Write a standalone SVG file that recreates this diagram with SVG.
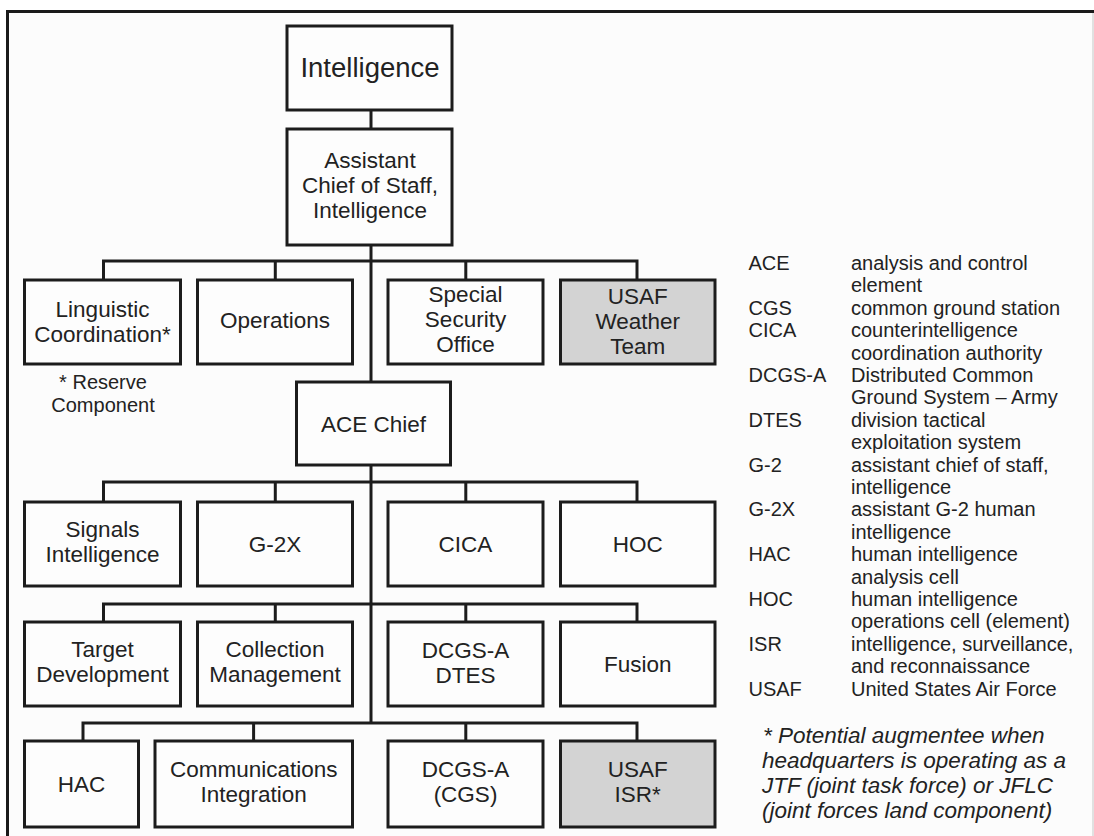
<svg xmlns="http://www.w3.org/2000/svg" width="1094" height="836" viewBox="0 0 1094 836">
<style>
.box{fill:#fdfdfd;stroke:#1c1c1c;stroke-width:3}
.gray{fill:#d3d3d3;stroke:#1c1c1c;stroke-width:3}
.t{font-family:"Liberation Sans",Arial,sans-serif;font-size:22.5px;fill:#222;text-anchor:middle}
.big{font-size:27.5px}
.lg{font-family:"Liberation Sans",Arial,sans-serif;font-size:20px;fill:#222}
.note{font-family:"Liberation Sans",Arial,sans-serif;font-size:22.5px;font-style:italic;fill:#222}
.c{fill:none;stroke:#1c1c1c;stroke-width:3}
</style>
<rect x="0" y="0" width="1094" height="836" fill="#ffffff"/>
<rect x="8" y="12" width="1086" height="824" fill="#fcfcfc"/>
<g id="frame">
<line x1="6" y1="11.5" x2="1094" y2="11.5" stroke="#1a1a1a" stroke-width="3"/>
<line x1="7.5" y1="10" x2="7.5" y2="836" stroke="#1a1a1a" stroke-width="3"/>
<line x1="1093" y1="13" x2="1093" y2="836" stroke="#d8d8d8" stroke-width="1.5"/>
</g>
<g id="connectors">
<path class="c" d="M371 110V129M371 245V382M371 465V723"/>
<path class="c" d="M103.5 280V261H637V280M275.3 261V280M465.8 261V280"/>
<path class="c" d="M103.5 502V482H637V502M275.3 482V502M465.8 482V502"/>
<path class="c" d="M103.5 622V604H637V622M275.3 604V622M465.8 604V622"/>
<path class="c" d="M83 741V723H637V741M253.6 723V741M465.8 723V741"/>
</g>
<g id="n-intelligence"><rect class="box" x="287" y="26" width="165" height="84"/><text class="t big" x="370" y="77">Intelligence</text></g>
<g id="n-acos"><rect class="box" x="287" y="129" width="165" height="116"/><text class="t" x="370" y="167.5">Assistant</text><text class="t" x="370" y="192.5">Chief of Staff,</text><text class="t" x="370" y="217.5">Intelligence</text></g>
<g id="n-linguistic"><rect class="box" x="24.5" y="280" width="156" height="84"/><text class="t" x="102.5" y="317">Linguistic</text><text class="t" x="102.5" y="342">Coordination*</text></g>
<g id="n-reserve-note"><text class="t" style="font-size:20px" x="103" y="388.5">* Reserve</text><text class="t" style="font-size:20px" x="103" y="412">Component</text></g>
<g id="n-operations"><rect class="box" x="197.5" y="280" width="155" height="84"/><text class="t" x="275" y="328">Operations</text></g>
<g id="n-sso"><rect class="box" x="388" y="280" width="155" height="84"/><text class="t" x="465.5" y="302">Special</text><text class="t" x="465.5" y="327">Security</text><text class="t" x="465.5" y="352">Office</text></g>
<g id="n-weather"><rect class="gray" x="560.5" y="280" width="154.5" height="84"/><text class="t" x="637.7" y="304">USAF</text><text class="t" x="637.7" y="329">Weather</text><text class="t" x="637.7" y="354">Team</text></g>
<g id="n-acechief"><rect class="box" x="296.5" y="382" width="154" height="83"/><text class="t" x="373.5" y="432">ACE Chief</text></g>
<g id="n-sigint"><rect class="box" x="24.5" y="502" width="156" height="84"/><text class="t" x="102.5" y="537">Signals</text><text class="t" x="102.5" y="562">Intelligence</text></g>
<g id="n-g2x"><rect class="box" x="197.5" y="502" width="155" height="84"/><text class="t" x="275" y="552">G-2X</text></g>
<g id="n-cica"><rect class="box" x="388" y="502" width="155" height="84"/><text class="t" x="465.5" y="552">CICA</text></g>
<g id="n-hoc"><rect class="box" x="560.5" y="502" width="154.5" height="84"/><text class="t" x="637.7" y="552">HOC</text></g>
<g id="n-target"><rect class="box" x="24.5" y="622" width="156" height="84"/><text class="t" x="102.5" y="657">Target</text><text class="t" x="102.5" y="682">Development</text></g>
<g id="n-collection"><rect class="box" x="197.5" y="622" width="155" height="84"/><text class="t" x="275" y="657">Collection</text><text class="t" x="275" y="682">Management</text></g>
<g id="n-dtes"><rect class="box" x="388" y="622" width="155" height="84"/><text class="t" x="465.5" y="658">DCGS-A</text><text class="t" x="465.5" y="683">DTES</text></g>
<g id="n-fusion"><rect class="box" x="560.5" y="622" width="154.5" height="84"/><text class="t" x="637.7" y="672">Fusion</text></g>
<g id="n-hac"><rect class="box" x="24.5" y="741" width="114" height="86"/><text class="t" x="81.5" y="792">HAC</text></g>
<g id="n-comms"><rect class="box" x="155" y="741" width="197.5" height="86"/><text class="t" x="253.7" y="777">Communications</text><text class="t" x="253.7" y="802">Integration</text></g>
<g id="n-cgs"><rect class="box" x="388" y="741" width="155" height="86"/><text class="t" x="465.5" y="777">DCGS-A</text><text class="t" x="465.5" y="802">(CGS)</text></g>
<g id="n-isr"><rect class="gray" x="560.5" y="741" width="154.5" height="86"/><text class="t" x="637.7" y="777">USAF</text><text class="t" x="637.7" y="802">ISR*</text></g>
<g id="legend" class="lg">
<text x="748.5" y="270">ACE</text><text x="851" y="270">analysis and control</text>
<text x="851" y="292.4">element</text>
<text x="748.5" y="314.8">CGS</text><text x="851" y="314.8">common ground station</text>
<text x="748.5" y="337.2">CICA</text><text x="851" y="337.2">counterintelligence</text>
<text x="851" y="359.6">coordination authority</text>
<text x="748.5" y="382">DCGS-A</text><text x="851" y="382">Distributed Common</text>
<text x="851" y="404.4">Ground System – Army</text>
<text x="748.5" y="426.8">DTES</text><text x="851" y="426.8">division tactical</text>
<text x="851" y="449.2">exploitation system</text>
<text x="748.5" y="471.6">G-2</text><text x="851" y="471.6">assistant chief of staff,</text>
<text x="851" y="494">intelligence</text>
<text x="748.5" y="516.4">G-2X</text><text x="851" y="516.4">assistant G-2 human</text>
<text x="851" y="538.8">intelligence</text>
<text x="748.5" y="561.2">HAC</text><text x="851" y="561.2">human intelligence</text>
<text x="851" y="583.6">analysis cell</text>
<text x="748.5" y="606">HOC</text><text x="851" y="606">human intelligence</text>
<text x="851" y="628.4">operations cell (element)</text>
<text x="748.5" y="650.8">ISR</text><text x="851" y="650.8">intelligence, surveillance,</text>
<text x="851" y="673.2">and reconnaissance</text>
<text x="748.5" y="695.6">USAF</text><text x="851" y="695.6">United States Air Force</text>
</g>
<g id="note" class="note">
<text x="763" y="743">* Potential augmentee when</text>
<text x="762" y="768">headquarters is operating as a</text>
<text x="762" y="793">JTF (joint task force) or JFLC</text>
<text x="762" y="818">(joint forces land component)</text>
</g>
</svg>
